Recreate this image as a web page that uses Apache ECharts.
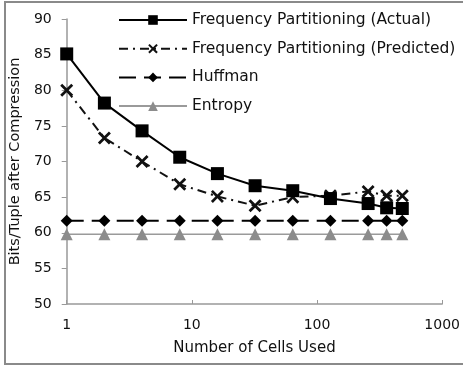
<!DOCTYPE html>
<html><head><meta charset="utf-8">
<script src="https://cdn.jsdelivr.net/npm/echarts@6/dist/echarts.min.js"></script>
<style>html,body{margin:0;padding:0;background:#fff;}#c{width:463px;height:371px;}</style>
</head><body><div id="c"></div>
<script>
const cells = [1, 2, 4, 8, 16, 32, 64, 128, 256, 360, 480];
const actual = [85.1, 78.2, 74.3, 70.6, 68.3, 66.6, 65.9, 64.8, 64.1, 63.5, 63.4];
const predicted = [80.0, 73.3, 70.0, 66.8, 65.1, 63.8, 65.0, 65.2, 65.8, 65.2, 65.2];
const huffman = [61.7, 61.7, 61.7, 61.7, 61.7, 61.7, 61.7, 61.7, 61.7, 61.7, 61.7];
const entropy = [59.8, 59.8, 59.8, 59.8, 59.8, 59.8, 59.8, 59.8, 59.8, 59.8, 59.8];
const seriesNames = ['Frequency Partitioning (Actual)', 'Frequency Partitioning (Predicted)', 'Huffman', 'Entropy'];
const xTickLabels = ['1', '10', '100', '1000'];

const pair = arr => cells.map((c, i) => [c, arr[i]]);
const xPath = 'path://M0,1.5L1.5,0L5,3.5L8.5,0L10,1.5L6.5,5L10,8.5L8.5,10L5,6.5L1.5,10L0,8.5L3.5,5Z';
const font = 'DejaVu Sans, sans-serif';
const chart = echarts.init(document.getElementById('c'), null, {renderer: 'canvas'});
chart.setOption({
  animation: false,
  backgroundColor: '#fff',
  graphic: [{type: 'rect', shape: {x: 5, y: 2, width: 470, height: 362}, style: {fill: 'none', stroke: '#8a8a8a', lineWidth: 2}, z: 100}],
  grid: {left: 65, right: 17, top: 19, bottom: 67},
  legend: {
    left: 113, top: 7, orient: 'vertical', itemWidth: 68, itemHeight: 12, itemGap: 12.7,
    textStyle: {fontFamily: font, fontSize: 15.5, color: '#111'},
    data: seriesNames
  },
  xAxis: {
    type: 'log', logBase: 10, min: 1, max: 1000,
    name: 'Number of Cells Used', nameLocation: 'middle', nameGap: 37,
    nameTextStyle: {fontFamily: font, fontSize: 15, color: '#111'},
    axisLine: {lineStyle: {color: '#999', width: 1.5}},
    axisTick: {inside: true, length: 4, lineStyle: {color: '#999'}},
    axisLabel: {fontFamily: font, fontSize: 14, color: '#111', margin: 14,
      formatter: v => xTickLabels[Math.round(Math.log10(v))]},
    splitLine: {show: false}, minorTick: {show: false}
  },
  yAxis: {
    type: 'value', min: 50, max: 90, interval: 5,
    name: 'Bits/Tuple after Compression', nameLocation: 'middle', nameGap: 42,
    nameTextStyle: {fontFamily: font, fontSize: 14.5, color: '#111'},
    axisLine: {show: true, lineStyle: {color: '#999', width: 1.5}},
    axisTick: {show: true, length: 5, lineStyle: {color: '#999'}},
    axisLabel: {fontFamily: font, fontSize: 14, color: '#111', margin: 15},
    splitLine: {show: false}
  },
  series: [
    {name: seriesNames[0], type: 'line', data: pair(actual), symbol: 'rect', symbolSize: 13,
     lineStyle: {color: '#000', width: 2}, itemStyle: {color: '#000'}, z: 5},
    {name: seriesNames[1], type: 'line', data: pair(predicted), symbol: xPath, symbolSize: 13,
     lineStyle: {color: '#111', width: 2, type: [9, 5, 2, 5]}, itemStyle: {color: '#111'}, z: 4},
    {name: seriesNames[2], type: 'line', data: pair(huffman), symbol: 'diamond', symbolSize: 12,
     lineStyle: {color: '#000', width: 2, type: [17, 8]}, itemStyle: {color: '#000'}, z: 3},
    {name: seriesNames[3], type: 'line', data: pair(entropy), symbol: 'triangle', symbolSize: 12,
     lineStyle: {color: '#9a9a9a', width: 1.5}, itemStyle: {color: '#8c8c8c'}, z: 2}
  ]
});
</script></body></html>
